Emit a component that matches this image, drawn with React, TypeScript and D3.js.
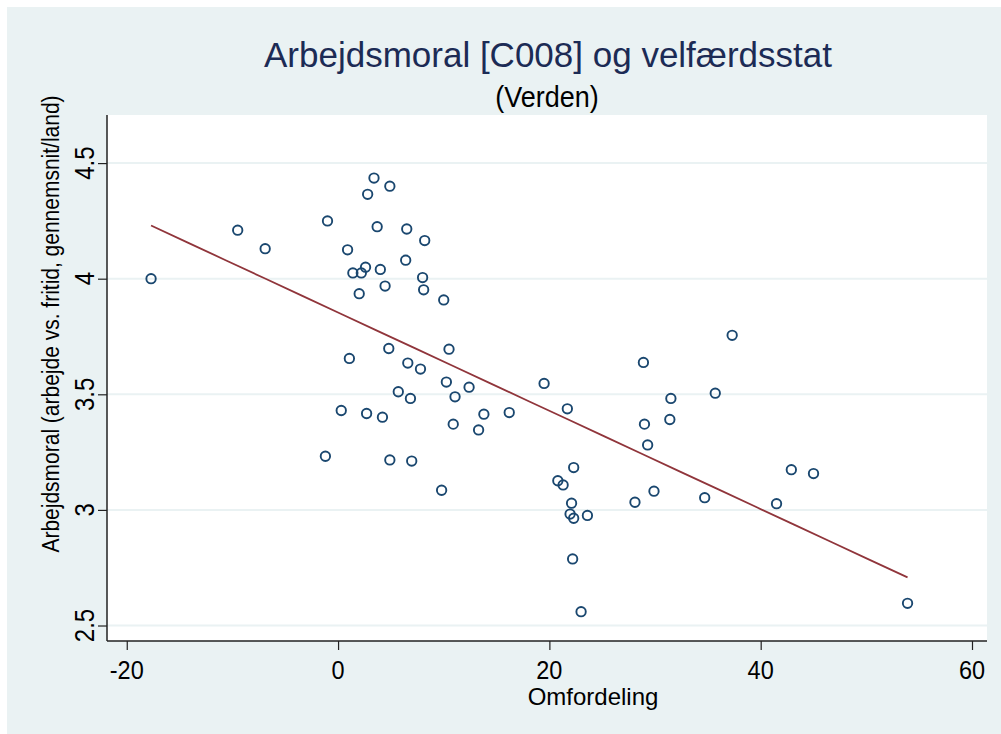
import React, { useRef, useEffect } from 'react';
import * as d3 from 'd3';

// Omfordeling (x) and Arbejdsmoral (y), one entry per country
const omfordeling = [
    -17.7, -9.5, -6.9, -1.0, 3.4, 4.9, 2.8, 3.7, 6.5, 8.2,
    0.9, 6.4, 2.6, 1.4, 2.2, 4.0, 8.0, 4.45, 2.0, 8.1,
    10.0, 4.8, 10.5, 1.07, 6.6, 7.8, 10.25, 5.7, 6.85, 0.3,
    2.7, 4.2, -1.2, 4.9, 6.97, 9.8, 10.9, 37.3, 28.9, 12.4,
    11.07, 19.5, 35.7, 31.5, 21.7, 13.8, 16.2, 31.4, 29.0, 13.3,
    29.3, 22.3, 20.8, 21.3, 29.9, 28.1, 34.7, 22.1, 21.96, 22.3,
    23.6, 22.2, 23.0, 41.5, 42.9, 45.0, 53.9
];
const arbejdsmoral = [
    4.0, 4.21, 4.13, 4.25, 4.435, 4.4, 4.365, 4.225, 4.215, 4.165,
    4.125, 4.08, 4.05, 4.025, 4.025, 4.04, 4.005, 3.968, 3.935, 3.952,
    3.908, 3.698, 3.695, 3.655, 3.635, 3.609, 3.553, 3.511, 3.482, 3.43,
    3.417, 3.401, 3.232, 3.216, 3.211, 3.085, 3.371, 3.755, 3.638, 3.531,
    3.489, 3.547, 3.505, 3.482, 3.437, 3.414, 3.421, 3.391, 3.371, 3.346,
    3.281, 3.183, 3.126, 3.108, 3.081, 3.033, 3.053, 3.029, 2.982, 2.964,
    2.976, 2.788, 2.56, 3.027, 3.174, 3.157, 2.596
];
const xTicks = [-20, 0, 20, 40, 60];
const yTicks = [2.5, 3, 3.5, 4, 4.5];

const title = 'Arbejdsmoral [C008] og velfærdsstat';
const subtitle = '(Verden)';
const xLabel = 'Omfordeling';
const yLabel = 'Arbejdsmoral (arbejde vs. fritid, gennemsnit/land)';

const App = () => {
    const ref = useRef<SVGSVGElement>(null);

    useEffect(() => {
        const svg = d3.select(ref.current);
        svg.selectAll('*').remove();

        const W = 1001, H = 734;
        const plot = { left: 107, right: 987, top: 115, bottom: 641 };
        const font = 'Arial, "Liberation Sans", Helvetica, sans-serif';

        svg.append('rect').attr('width', W).attr('height', H).attr('fill', '#ffffff');
        svg.append('rect')
            .attr('x', 7).attr('y', 7)
            .attr('width', W - 7).attr('height', H - 7)
            .attr('fill', '#eaf2f3');
        svg.append('rect')
            .attr('x', plot.left).attr('y', plot.top)
            .attr('width', plot.right - plot.left).attr('height', plot.bottom - plot.top)
            .attr('fill', '#ffffff');

        const xScale = d3.scaleLinear().domain([-21.87, 61.42]).range([plot.left, plot.right]);
        const yScale = d3.scaleLinear().domain([2.433, 4.708]).range([plot.bottom, plot.top]);

        // horizontal grid
        svg.append('g')
            .selectAll('line')
            .data(yTicks)
            .enter().append('line')
            .attr('x1', plot.left).attr('x2', plot.right)
            .attr('y1', d => yScale(d)).attr('y2', d => yScale(d))
            .attr('stroke', '#eaf2f3')
            .attr('stroke-width', 2);

        // axes
        const yAxis = d3.axisLeft(yScale).tickValues(yTicks).tickSize(9).tickFormat(() => '');
        const xAxis = d3.axisBottom(xScale).tickValues(xTicks).tickSize(9).tickFormat(() => '');
        const yg = svg.append('g').attr('transform', 'translate(' + plot.left + ',0)').call(yAxis);
        const xg = svg.append('g').attr('transform', 'translate(0,' + plot.bottom + ')').call(xAxis);
        [yg, xg].forEach(g => {
            g.select('.domain').attr('stroke', '#222').attr('stroke-width', 1.5);
            g.selectAll('.tick line').attr('stroke', '#222').attr('stroke-width', 1.2);
        });
        yg.select('.domain').attr('d', 'M0,' + plot.top + 'V' + plot.bottom);
        xg.select('.domain').attr('d', 'M' + plot.left + ',0H' + plot.right);

        // tick labels (Stata text is drawn a little taller than Arial)
        svg.append('g')
            .selectAll('text')
            .data(yTicks)
            .enter().append('text')
            .attr('transform', d => 'translate(94,' + yScale(d) + ') rotate(-90) scale(1,1.15)')
            .attr('text-anchor', 'middle')
            .style('font-family', font)
            .style('font-size', '24px')
            .attr('fill', '#000')
            .text(d => String(d));

        svg.append('g')
            .selectAll('text')
            .data(xTicks)
            .enter().append('text')
            .attr('transform', d => 'translate(' + xScale(d) + ',679) scale(1,1.1)')
            .attr('text-anchor', 'middle')
            .style('font-family', font)
            .style('font-size', '23.5px')
            .attr('fill', '#000')
            .text(d => String(d));

        // axis titles
        svg.append('text')
            .attr('x', (plot.left + plot.right) / 2 + 46)
            .attr('y', 705)
            .attr('text-anchor', 'middle')
            .style('font-family', font)
            .style('font-size', '24px')
            .attr('fill', '#000')
            .text(xLabel);

        svg.append('text')
            .attr('transform', 'translate(59,324) rotate(-90) scale(1,1.15)')
            .attr('text-anchor', 'middle')
            .style('font-family', font)
            .style('font-size', '21px')
            .attr('fill', '#000')
            .text(yLabel);

        // titles
        svg.append('text')
            .attr('x', 548)
            .attr('y', 67)
            .attr('text-anchor', 'middle')
            .style('font-family', font)
            .style('font-size', '35px')
            .attr('fill', '#1c2b55')
            .text(title);

        svg.append('text')
            .attr('transform', 'translate(547,107) scale(1,1.08)')
            .attr('text-anchor', 'middle')
            .style('font-family', font)
            .style('font-size', '27px')
            .attr('fill', '#000')
            .text(subtitle);

        // linear fit
        const pts = omfordeling.map((x, i) => ({ x, y: arbejdsmoral[i] }));
        const mx = d3.mean(pts, d => d.x) as number;
        const my = d3.mean(pts, d => d.y) as number;
        const sxy = d3.sum(pts, d => (d.x - mx) * (d.y - my));
        const sxx = d3.sum(pts, d => (d.x - mx) * (d.x - mx));
        const slope = sxy / sxx;
        const intercept = my - slope * mx;
        const [x0, x1] = d3.extent(omfordeling) as [number, number];
        const fit = d3.range(0, 21).map(i => {
            const x = x0 + (x1 - x0) * i / 20;
            return { x, y: intercept + slope * x };
        });

        // points
        svg.append('g')
            .selectAll('circle')
            .data(pts)
            .enter().append('circle')
            .attr('cx', d => xScale(d.x))
            .attr('cy', d => yScale(d.y))
            .attr('r', 4.7)
            .attr('fill', 'none')
            .attr('stroke', '#1a476f')
            .attr('stroke-width', 1.9);

        svg.append('path')
            .datum(fit)
            .attr('fill', 'none')
            .attr('stroke', '#90353b')
            .attr('stroke-width', 1.8)
            .attr('d', d3.line<{ x: number; y: number }>()
                .x(d => xScale(d.x))
                .y(d => yScale(d.y)));
    }, []);

    return (
        <svg
            ref={ref}
            width={1001}
            height={734}
            style={{ position: 'absolute', left: 0, top: 0, display: 'block' }}
        ></svg>
    );
};

export default App;
